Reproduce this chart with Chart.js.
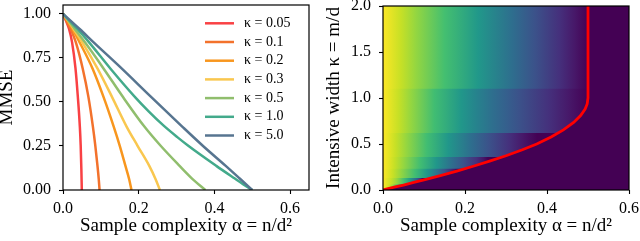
<!DOCTYPE html>
<html>
<head>
<meta charset="utf-8">
<script src="https://cdn.jsdelivr.net/npm/chart.js@4.4.1/dist/chart.umd.min.js"></script>
<style>
  html, body { margin: 0; padding: 0; background: #fff; }
  #wrap { position: relative; width: 640px; height: 241px; }
  canvas { position: absolute; top: 0; }
  #left { left: 0; }
  #right { left: 320px; }
</style>
</head>
<body>
<div id="wrap">
  <canvas id="left" width="320" height="241"></canvas>
  <canvas id="right" width="320" height="241"></canvas>
</div>
<script>
// MMSE curves, one pair of arrays per kappa
const kappaLabels = ['κ = 0.05', 'κ = 0.1', 'κ = 0.2', 'κ = 0.3', 'κ = 0.5', 'κ = 1.0', 'κ = 5.0'];
const lineColors = ['#f94144', '#f3722c', '#f8961e', '#f9c74f', '#90be6d', '#43aa8b', '#577590'];

const alphaK005 = [0, 0.008, 0.016, 0.024, 0.033, 0.039, 0.0445, 0.0467, 0.0485, 0.0497];
const mmseK005  = [1, 0.96, 0.914, 0.838, 0.69, 0.535, 0.36, 0.255, 0.12, 0];
const alphaK01  = [0, 0.01, 0.02, 0.034, 0.052, 0.067, 0.079, 0.0852, 0.0911, 0.0945, 0.0966];
const mmseK01   = [1, 0.955, 0.914, 0.838, 0.69, 0.53, 0.36, 0.255, 0.137, 0.06, 0];
const alphaK02  = [0, 0.012, 0.025, 0.044, 0.078, 0.1075, 0.134, 0.15, 0.165, 0.175, 0.181];
const mmseK02   = [1, 0.96, 0.914, 0.838, 0.69, 0.526, 0.36, 0.251, 0.137, 0.06, 0];
const alphaK03  = [0, 0.014, 0.028, 0.051, 0.091, 0.13, 0.168, 0.197, 0.228, 0.245, 0.256];
const mmseK03   = [1, 0.96, 0.914, 0.838, 0.69, 0.526, 0.36, 0.251, 0.137, 0.06, 0];
const alphaK05  = [0, 0.016, 0.031, 0.058, 0.107, 0.159, 0.215, 0.258, 0.308, 0.341, 0.376];
const mmseK05   = [1, 0.957, 0.914, 0.838, 0.69, 0.526, 0.36, 0.251, 0.137, 0.065, 0];
const alphaK1   = [0, 0.019, 0.038, 0.069, 0.125, 0.191, 0.227, 0.266, 0.302, 0.331, 0.405, 0.454, 0.485, 0.5];
const mmseK1    = [1, 0.957, 0.914, 0.838, 0.69, 0.526, 0.445, 0.365, 0.3, 0.251, 0.137, 0.065, 0.02, 0];
const alphaK5   = [0, 0.044, 0.081, 0.15, 0.232, 0.315, 0.37, 0.43, 0.467, 0.5];
const mmseK5    = [1, 0.914, 0.838, 0.7, 0.53, 0.36, 0.25, 0.137, 0.065, 0];

const curveAlpha = [alphaK005, alphaK01, alphaK02, alphaK03, alphaK05, alphaK1, alphaK5];
const curveMMSE  = [mmseK005, mmseK01, mmseK02, mmseK03, mmseK05, mmseK1, mmseK5];

// heatmap: kappa bands, each coloured by one of the curves above
const heatBandEdges = [0, 0.06, 0.13, 0.23, 0.36, 0.62, 1.1, 2.0];
const heatAlphaMax = 0.6;

// perfect-recovery line in the right panel
const boundaryAlpha = [0, 0.01, 0.03, 0.05, 0.075, 0.1, 0.14, 0.18, 0.22, 0.26, 0.3, 0.34, 0.375, 0.41, 0.44, 0.465, 0.482, 0.493, 0.498, 0.5, 0.5];
const boundaryKappa = [0, 0.012, 0.033, 0.054, 0.082, 0.11, 0.157, 0.206, 0.258, 0.313, 0.372, 0.438, 0.5, 0.576, 0.653, 0.735, 0.81, 0.88, 0.935, 1.0, 2.0];

// ticks
const mmseTicks = [0, 0.25, 0.5, 0.75, 1.0];
const mmseTickLabels = ['0.00', '0.25', '0.50', '0.75', '1.00'];
const alphaTicks = [0, 0.2, 0.4, 0.6];
const alphaTickLabels = ['0.0', '0.2', '0.4', '0.6'];
const kappaTicks = [0, 0.5, 1.0, 1.5, 2.0];
const kappaTickLabels = ['0.0', '0.5', '1.0', '1.5', '2.0'];

const viridisStops = ['#440154', '#482475', '#414487', '#355f8d', '#2a788e', '#21918c',
                      '#22a884', '#44bf70', '#7ad151', '#bddf26', '#fde725'];

function hexToRgb(h) {
  return [parseInt(h.slice(1, 3), 16), parseInt(h.slice(3, 5), 16), parseInt(h.slice(5, 7), 16)];
}

function viridis(t) {
  t = Math.min(1, Math.max(0, t));
  const p = t * 10;
  const i = Math.min(9, Math.floor(p));
  const f = p - i;
  const a = hexToRgb(viridisStops[i]);
  const b = hexToRgb(viridisStops[i + 1]);
  const c = a.map((v, k) => Math.round(v + (b[k] - v) * f));
  return `rgb(${c[0]}, ${c[1]}, ${c[2]})`;
}

Chart.defaults.font.family = "'Liberation Serif', 'Times New Roman', serif";
Chart.defaults.color = '#000';

function makeScale(pos, min, max, ticks, labels, title, size, titlePad) {
  const horiz = pos === 'bottom';
  return {
    type: 'linear',
    position: pos,
    min: min,
    max: max,
    afterBuildTicks: s => { s.ticks = ticks.map(v => ({ value: v })); },
    afterFit: s => {
      if (horiz) s.height = size; else s.width = size;
      s.paddingTop = s.paddingBottom = s.paddingLeft = s.paddingRight = 0;
    },
    grid: {
      drawOnChartArea: false,
      drawTicks: true,
      tickLength: 4,
      tickColor: '#000',
      tickWidth: 1.1,
      color: '#000'
    },
    border: { display: false },
    ticks: {
      autoSkip: false,
      maxRotation: 0,
      padding: horiz ? 5 : 8,
      font: { size: 16 },
      callback: (v, i) => labels[i]
    },
    title: {
      display: true,
      text: title,
      font: { size: 19, lineHeight: 0.7 },
      padding: titlePad
    }
  };
}

const framePlugin = {
  id: 'frame',
  afterDatasetsDraw(chart) {
    const { ctx, chartArea: a } = chart;
    ctx.save();
    ctx.strokeStyle = '#000';
    ctx.lineWidth = 1.2;
    ctx.strokeRect(a.left, a.top, a.right - a.left, a.bottom - a.top);
    ctx.restore();
  }
};

const legendPlugin = {
  id: 'kappaLegend',
  afterDatasetsDraw(chart) {
    const { ctx, chartArea: a } = chart;
    ctx.save();
    ctx.font = "14px 'Liberation Serif', serif";
    ctx.textBaseline = 'middle';
    ctx.fillStyle = '#000';
    kappaLabels.forEach((lab, i) => {
      const y = a.top + 18.3 + i * 18.7;
      ctx.strokeStyle = lineColors[i];
      ctx.lineWidth = 2.5;
      ctx.beginPath();
      ctx.moveTo(a.right - 104, y);
      ctx.lineTo(a.right - 75, y);
      ctx.stroke();
      ctx.fillText(lab, a.right - 65, y);
    });
    ctx.restore();
  }
};

const heatBackground = {
  id: 'heatBackground',
  beforeDatasetsDraw(chart) {
    const { ctx, chartArea: a } = chart;
    ctx.save();
    ctx.fillStyle = viridis(0);
    ctx.fillRect(a.left, a.top, a.right - a.left, a.bottom - a.top);
    ctx.restore();
  }
};

// left: MMSE curves
new Chart(document.getElementById('left'), {
  type: 'line',
  data: {
    datasets: curveAlpha.map((alphas, i) => ({
      label: kappaLabels[i],
      data: alphas.map((a, j) => ({ x: a, y: curveMMSE[i][j] })),
      borderColor: lineColors[i],
      borderWidth: 2.5,
      pointRadius: 0,
      fill: false,
      cubicInterpolationMode: 'monotone',
      order: curveAlpha.length - i
    }))
  },
  options: {
    responsive: false,
    animation: false,
    devicePixelRatio: 1,
    layout: { padding: { top: 5, right: 11, left: 0, bottom: 0 } },
    plugins: { legend: { display: false }, tooltip: { enabled: false } },
    scales: {
      x: makeScale('bottom', 0, 0.65, alphaTicks, alphaTickLabels, 'Sample complexity α = n/d²', 51, { top: 0, bottom: 8 }),
      y: makeScale('left', 0, 1.05, mmseTicks, mmseTickLabels, 'MMSE', 63, { top: 0, bottom: 0 })
    }
  },
  plugins: [framePlugin, legendPlugin]
});

// horizontal colour ramp for one kappa band, taken from that band's curve
function bandGradient(chart, i) {
  const xs = chart.scales.x;
  if (!xs || !chart.chartArea) return viridis(0.5);
  const a = curveAlpha[i], m = curveMMSE[i];
  const a0 = a[0], a1 = a[a.length - 1];
  const g = chart.ctx.createLinearGradient(xs.getPixelForValue(a0), 0, xs.getPixelForValue(a1), 0);
  a.forEach((v, j) => g.addColorStop((v - a0) / (a1 - a0), viridis(m[j])));
  return g;
}

// each band fills from its top edge down to 0; lower bands are drawn over the upper ones
const bandSets = curveAlpha.map((alphas, i) => ({
  label: 'band ' + kappaLabels[i],
  data: [
    { x: alphas[0], y: heatBandEdges[i + 1] },
    { x: heatAlphaMax, y: heatBandEdges[i + 1] }
  ],
  borderWidth: 0,
  pointRadius: 0,
  tension: 0,
  fill: 'origin',
  backgroundColor: ctx => bandGradient(ctx.chart, i),
  order: 10 + i
}));

// right: MMSE heatmap with recovery threshold
new Chart(document.getElementById('right'), {
  type: 'line',
  data: {
    datasets: bandSets.concat([{
      label: 'threshold',
      data: boundaryAlpha.map((a, j) => ({ x: a, y: boundaryKappa[j] })),
      borderColor: '#ff0000',
      borderWidth: 2.8,
      pointRadius: 0,
      tension: 0,
      fill: 'origin',
      backgroundColor: viridis(0),
      order: 0
    }])
  },
  options: {
    responsive: false,
    animation: false,
    devicePixelRatio: 1,
    layout: { padding: { top: 6, right: 11, left: 0, bottom: 0 } },
    plugins: { legend: { display: false }, tooltip: { enabled: false } },
    scales: {
      x: makeScale('bottom', 0, 0.6, alphaTicks, alphaTickLabels, 'Sample complexity α = n/d²', 51, { top: 0, bottom: 8 }),
      y: makeScale('left', 0, 2.0, kappaTicks, kappaTickLabels, 'Intensive width κ = m/d', 63, { top: 7.4, bottom: 0 })
    }
  },
  plugins: [heatBackground, framePlugin]
});
</script>
</body>
</html>
